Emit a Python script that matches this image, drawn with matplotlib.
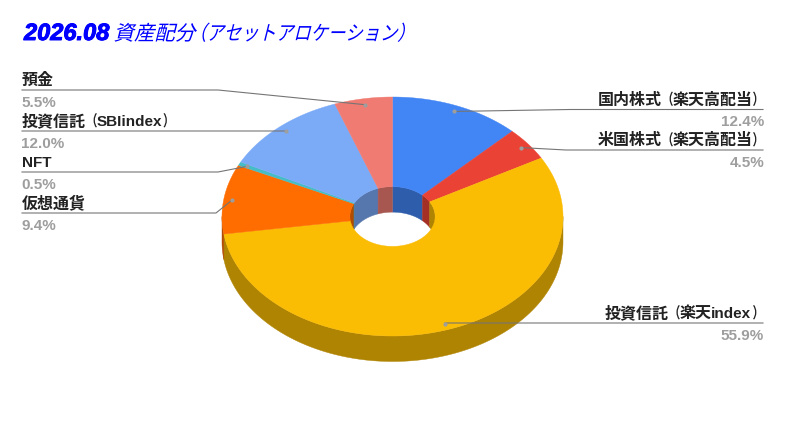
import re
import numpy as np
import matplotlib
matplotlib.use('Agg')
import matplotlib.pyplot as plt
from matplotlib.patheffects import AbstractPathEffect, Normal, withStroke
from matplotlib.transforms import Affine2D

# Chart data
labels = ['国内株式（楽天高配当）', '米国株式（楽天高配当）', '投資信託（楽天index）', '仮想通貨',
          'NFT', '投資信託（SBIindex）', '預金']
values = [12.4, 4.5, 55.9, 9.4, 0.5, 12.0, 5.5]
colors = ['#4285F4', '#EA4335', '#FBBC04', '#FF6D01', '#46BDC6', '#7BAAF7', '#F07B72']

# Layout, in pixels of the 785x421 picture
cx, cy = 392.5, 216.5
rx, ry = 170.5, 119.5
hole = 0.25
depth = 25.5
shade = 0.70
line_y = [109.5, 150, 323, 213, 172, 131, 90]
elbow_x = [570, 566, 445, 216, 218, 286, 218]
side = ['r', 'r', 'r', 'l', 'l', 'l', 'l']
CJK = 'Noto Sans CJK JP'
LATIN = 'Liberation Sans'


class Slant(AbstractPathEffect):
    # the CJK family has no italic, so slant (and squeeze) the glyph outlines
    def __init__(self, deg=0, xscale=1.0, yscale=1.0):
        super().__init__()
        self.deg = deg
        self.xscale = xscale
        self.yscale = yscale

    def draw_path(self, renderer, gc, tpath, affine, rgbFace=None):
        tr = Affine2D().scale(self.xscale, self.yscale).skew_deg(self.deg, 0) + affine
        renderer.draw_path(gc, tpath, tr, rgbFace)


def point(theta, r=1.0, dy=0.0):
    return cx + r * rx * np.sin(theta), cy - r * ry * np.cos(theta) + dy


def dark(color):
    return tuple(c * shade for c in matplotlib.colors.to_rgb(color))


def arc(a, b):
    return np.linspace(a, b, max(int(abs(b - a) * 60), 2))


fig = plt.figure(figsize=(7.85, 4.21), dpi=100)
ax = fig.add_axes([0, 0, 1, 1])
ax.set_xlim(0, 785)
ax.set_ylim(421, 0)
ax.axis('off')
renderer = fig.canvas.get_renderer()


def label_text(end, y, name, ha):
    # CJK, latin and bracket runs are set apart because the brackets are narrow here
    runs = re.findall(r'[（）]|[A-Za-z]+|[^（）A-Za-z]+', name)
    widths = []
    for run in runs:
        if run in '（）':
            widths.append(10.5)
        elif run[0].isascii():
            t = ax.text(0, 0, run, fontsize=11, fontweight='bold', family=LATIN)
            widths.append(t.get_window_extent(renderer).width + 1)
            t.remove()
        else:
            widths.append(16.0 * len(run))
    x = end - sum(widths) if ha == 'right' else end
    for run, w in zip(runs, widths):
        if run in '（）':
            t = ax.text(x, y, run, fontsize=7.5, fontweight='bold', family=CJK, color='#222222', zorder=6)
            t.set_path_effects([Slant(xscale=1.1, yscale=1.45)])
        elif run[0].isascii():
            ax.text(x, y, run, fontsize=11, fontweight='bold', family=LATIN, color='#222222', zorder=6)
        else:
            ax.text(x, y, run, fontsize=11.5, fontweight='bold', family=CJK, color='#222222', zorder=6)
        x += w


edges = np.concatenate([[0], np.cumsum(values)]) / sum(values) * 2 * np.pi

# outer wall, front half
for a, b, c in zip(edges[:-1], edges[1:], colors):
    lo, hi = max(a, np.pi / 2), min(b, 3 * np.pi / 2)
    if lo < hi:
        t = arc(lo, hi)
        x1, y1 = point(t)
        x2, y2 = point(t[::-1], dy=depth)
        ax.fill(np.r_[x1, x2], np.r_[y1, y2], color=dark(c), lw=0.3, zorder=1)

# inner wall of the hole, rear half
for a, b, c in zip(edges[:-1], edges[1:], colors):
    for lo, hi in ((max(a, 0), min(b, np.pi / 2)), (max(a, 3 * np.pi / 2), min(b, 2 * np.pi))):
        if lo < hi:
            t = arc(lo, hi)
            x1, y1 = point(t, hole)
            x2, y2 = point(t[::-1], hole, depth)
            ax.fill(np.r_[x1, x2], np.r_[y1, y2], color=dark(c), lw=0.3, zorder=2)

# top surface
for a, b, c in zip(edges[:-1], edges[1:], colors):
    t = arc(a, b)
    x1, y1 = point(t)
    x2, y2 = point(t[::-1], hole)
    ax.fill(np.r_[x1, x2], np.r_[y1, y2], color=c, lw=0.3, zorder=3)

# labels and leader lines
for i, name in enumerate(labels):
    mid = (edges[i] + edges[i + 1]) / 2
    dot_x, dot_y = point(mid, 0.95)
    y = line_y[i]
    if side[i] == 'r':
        end, ha = 763, 'right'
    else:
        end, ha = 22, 'left'
    ax.plot([end, elbow_x[i], dot_x], [y, y, dot_y], color='#757575', lw=0.8, zorder=4)
    ax.plot([dot_x], [dot_y], 'o', color='#9E9E9E', ms=3.0, mew=0, zorder=5)
    label_text(end, y - 5, name, ha)
    ax.text(end + (1 if ha == 'right' else -0.5), y + 17, '%.1f%%' % values[i], ha=ha, fontsize=11,
            fontweight='bold', family=LATIN, color='#9E9E9E', zorder=6)

# title
year = ax.text(24, 40, '2026.08', fontsize=17, fontweight='bold', style='italic',
               family=LATIN, color='#0000FF')
year.set_path_effects([withStroke(linewidth=0.7, foreground='#0000FF'), Normal()])
head = ax.text(113.5, 40, '資産配分', fontsize=14.7, family=CJK, color='#0000FF')
head.set_path_effects([Slant(14)])
tail = ax.text(189, 40, '（アセットアロケーション）', fontsize=14.7, family=CJK, color='#0000FF')
tail.set_path_effects([Slant(14, 0.85)])

fig.savefig('out.png', dpi=100)
